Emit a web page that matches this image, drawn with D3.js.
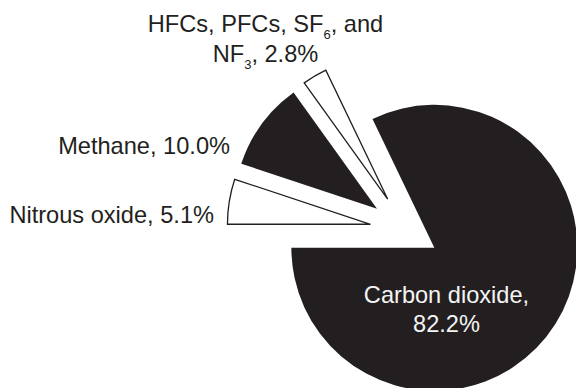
<!DOCTYPE html>
<html>
<head>
<meta charset="utf-8">
<script src="https://cdn.jsdelivr.net/npm/d3@7"></script>
<style>
  html, body { margin: 0; padding: 0; background: #ffffff; }
  svg { display: block; }
  text { font-family: "Liberation Sans", Arial, Helvetica, sans-serif; }
</style>
</head>
<body>
<div id="chart"></div>
<script>
// ---------------- data ----------------
const categories = ["Nitrous oxide", "Methane", "HFCs, PFCs, SF6, and NF3", "Carbon dioxide"];
const values = [5.1, 10.0, 2.8, 82.2];
const valueLabels = ["5.1%", "10.0%", "2.8%", "82.2%"];

// ---------------- style / layout ----------------
const W = 576, H = 388;
const dark = "#231f20";
const fills = [ "#ffffff", dark, "#ffffff", dark ];
const strokes = [ dark, "none", dark, "none" ];
const textFills = [ dark, dark, dark, "#f4f4f4" ];
const center = { x: 406, y: 230 };
const radius = 143;
const explode = [36, 36, 36, 33.5];
const fontSize = 23.6, subSize = 13, subShift = 7, lineGap = 29.5;
// label anchors (layout only)
const labelLayout = [
  { x: 214,   y: 222.7, anchor: "end",    lines: 1 },
  { x: 230,   y: 154,   anchor: "end",    lines: 1 },
  { x: 265.5, y: 32.3,  anchor: "middle", lines: 2 },
  { x: 446.5, y: 302.7, anchor: "middle", lines: 2 }
];

const svg = d3.select("#chart").append("svg")
  .attr("width", W).attr("height", H);

const data = categories.map((c, i) => ({ name: c, value: values[i], label: valueLabels[i], i }));

const pie = d3.pie()
  .sort(null)
  .value(d => d.value)
  .startAngle(1.5 * Math.PI)
  .endAngle(3.5 * Math.PI);

const arc = d3.arc().innerRadius(0).outerRadius(radius);

const arcs = pie(data);

svg.append("g")
  .attr("transform", `translate(${center.x},${center.y})`)
  .selectAll("path")
  .data(arcs)
  .join("path")
  .attr("d", arc)
  .attr("transform", d => {
    const mid = (d.startAngle + d.endAngle) / 2;
    const e = explode[d.data.i];
    return `translate(${e * Math.sin(mid)},${-e * Math.cos(mid)})`;
  })
  .attr("fill", d => fills[d.data.i])
  .attr("stroke", d => strokes[d.data.i])
  .attr("stroke-width", 1.3)
  .attr("stroke-linejoin", "miter");

// build label segments: digits after SF / NF become subscripts
function segments(str) {
  const out = [];
  const re = /([SN]F)(\d)/g;
  let last = 0, m;
  while ((m = re.exec(str)) !== null) {
    out.push({ t: str.slice(last, m.index) + m[1], sub: false });
    out.push({ t: m[2], sub: true });
    last = m.index + m[0].length;
  }
  out.push({ t: str.slice(last), sub: false });
  return out.filter(s => s.t.length);
}

function labelLines(d) {
  const full = d.name + ", " + d.label;
  const lay = labelLayout[d.i];
  if (lay.lines === 1) return [full];
  if (d.name.startsWith("HFCs")) {
    return ["HFCs, PFCs, SF6, and", "NF3, " + d.label];
  }
  return [d.name + ",", d.label];
}

const labels = svg.append("g");
data.forEach(d => {
  const lay = labelLayout[d.i];
  const lines = labelLines(d);
  lines.forEach((line, li) => {
    const t = labels.append("text")
      .attr("x", lay.x)
      .attr("y", lay.y + li * lineGap)
      .attr("text-anchor", lay.anchor)
      .attr("font-size", fontSize)
      .attr("fill", textFills[d.i]);
    let shifted = 0;
    segments(line).forEach(s => {
      const span = t.append("tspan").text(s.t);
      if (s.sub) {
        span.attr("font-size", subSize).attr("dy", subShift - shifted);
        shifted = subShift;
      } else if (shifted) {
        span.attr("dy", -shifted);
        shifted = 0;
      }
    });
  });
});
</script>
</body>
</html>
